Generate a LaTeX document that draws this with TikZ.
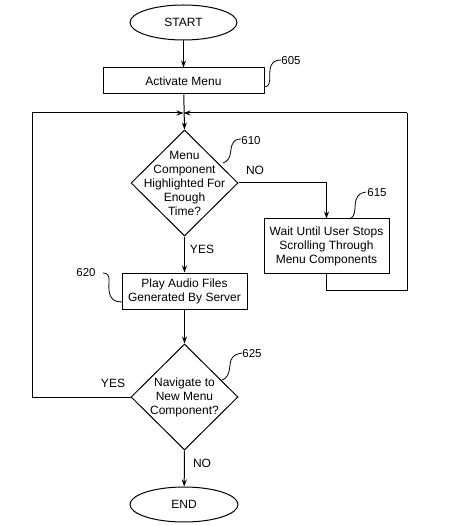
\documentclass[tikz,border=0pt]{standalone}
\usepackage{fontspec}
\setmainfont{Liberation Sans}
\usetikzlibrary{shapes.geometric,arrows.meta}
\tikzset{
  base/.style={draw, line width=1pt, inner sep=0pt, align=center, font=\fontsize{12}{14}\selectfont},
  term/.style={base, ellipse},
  procbox/.style={base, rectangle},
  decis/.style={base, diamond, minimum width=107pt, minimum height=106pt},
  conn/.style={line width=1pt},
  arr/.style={conn, -{Stealth[length=7pt,width=5pt]}},
  lead/.style={line width=0.8pt},
  refnum/.style={font=\fontsize{11.5}{13}\selectfont, inner sep=0pt},
  yn/.style={font=\fontsize{12}{14}\selectfont, inner sep=0pt}
}
\begin{document}
\begin{tikzpicture}[x=1pt,y=-1pt]
\useasboundingbox (0,0) rectangle (460,526);
\node[term, minimum width=107pt, minimum height=35pt] (start) at (183.5,22.5) {START};
\node[procbox, minimum width=161pt, minimum height=26pt] (act) at (183.5,81) {Activate Menu};
\coordinate (j) at (183.5,113);
\node[decis, label={[font=\fontsize{12}{14}\selectfont, align=center]center:Menu\\Component\\Highlighted For\\Enough\\Time?}] (d1) at (184.5,183) {};
\node[procbox, minimum width=125pt, minimum height=54pt] (b615) at (326.5,246) {Wait Until User Stops\\Scrolling Through\\Menu Components};
\node[procbox, minimum width=125pt, minimum height=36pt] (b620) at (184.5,291) {Play Audio Files\\Generated By Server};
\node[decis, label={[font=\fontsize{12}{14}\selectfont, align=center]center:Navigate to\\New Menu\\Component?}] (d2) at (184.5,397) {};
\node[term, minimum width=108pt, minimum height=35pt] (end) at (184,504.5) {END};

\coordinate (r1) at (326.5,290);
\coordinate (r2) at (407,290);
\coordinate (r3) at (407,113);
\coordinate (l1) at (32,397);
\coordinate (l2) at (32,113);

\draw[arr] (start) -- (act);
\draw[arr] (act) -- (d1.north);
\draw[arr] (d1.east) -| (b615.north);
\draw[conn] (b615.south) -- (r1) -- (r2) -- (r3);
\draw[arr] (r3) -- (j);
\draw[arr] (d1.south) -- (b620.north);
\draw[arr] (b620) -- (d2.north);
\draw[conn] (d2.west) -- (l1) -- (l2);
\draw[arr] (l2) -- (j);
\draw[arr] (d2.south) -- (end);

\node[yn] (no1) at (255,170) {NO};
\node[yn] (yes1) at (202,249) {YES};
\node[yn] (yes2) at (113,383) {YES};
\node[yn] (no2) at (202,463) {NO};

\node[refnum] (n605) at (291,61) {605};
\node[refnum] (n610) at (251,141) {610};
\node[refnum] (n615) at (377,193) {615};
\node[refnum] (n620) at (86,273) {620};
\node[refnum] (n625) at (252,354) {625};

\draw[lead] (264,87) .. controls (272,87) and (269,76) .. (270,70) .. controls (271,62) and (275,60) .. (281,60);
\draw[lead] (223,163) .. controls (232,160) and (230,150) .. (232,145) .. controls (234,140) and (237,139) .. (241,139);
\draw[lead] (349,219) .. controls (357,217) and (354,205) .. (356,200) .. controls (358,194) and (361,193) .. (366,192);
\draw[lead] (103,273) .. controls (112,273) and (108,283) .. (109,290) .. controls (110,300) and (115,302) .. (122,302);
\draw[lead] (222,380) .. controls (231,377) and (229,365) .. (231,360) .. controls (233,355) and (237,354) .. (242,353);
\end{tikzpicture}
\end{document}
